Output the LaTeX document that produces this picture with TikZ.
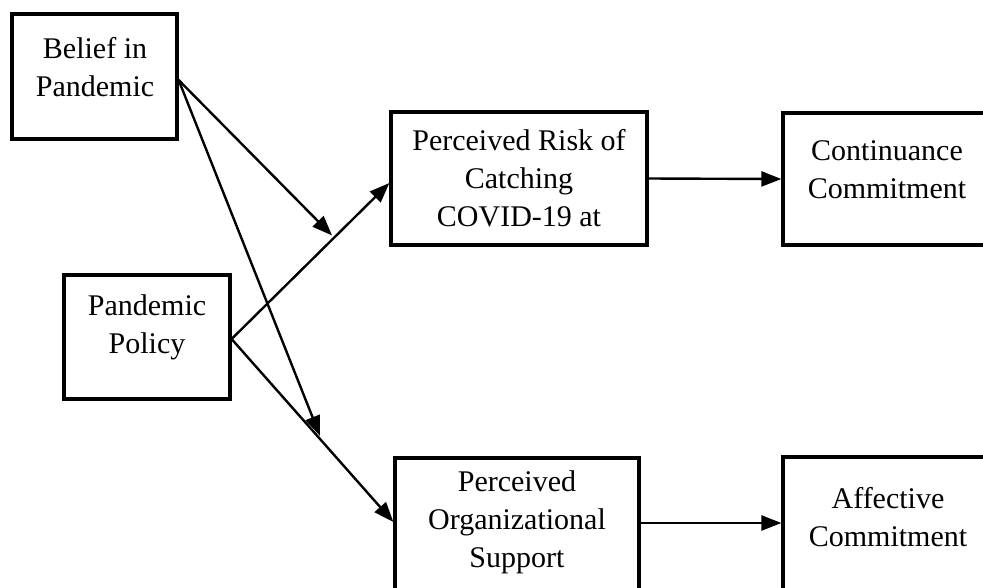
\documentclass[tikz,border=0pt]{standalone}
\usepackage{fontspec}
\setmainfont{Liberation Serif}
\usetikzlibrary{arrows.meta,calc}
\begin{document}
\begin{tikzpicture}[x=1pt,y=-1pt,
  box/.style={draw,line width=3.2pt,rectangle,inner sep=0pt},
  lbl/.style={align=center,inner sep=0pt,font=\fontsize{30}{38}\selectfont},
  conn/.style={line width=2.4pt,-{Triangle[length=20pt,width=15pt]}},
  plain/.style={line width=2.4pt}]
\useasboundingbox (0,0) rectangle (983,587);
\clip (0,0) rectangle (983,587);
% boxes
\node[box,minimum width=165pt,minimum height=125pt] (belief) at (94.5,76.5) {};
\node[box,minimum width=166pt,minimum height=124pt] (policy) at (147,337) {};
\node[box,minimum width=256pt,minimum height=133pt] (risk) at (519,178.5) {};
\node[box,minimum width=230pt,minimum height=132pt] (cont) at (898,179) {};
\node[box,minimum width=244pt,minimum height=144pt] (pos) at (517,530) {};
\node[box,minimum width=230pt,minimum height=144pt] (aff) at (898,529) {};
% labels
\node[lbl] (beliefT) at (95,67.5) {Belief in\\Pandemic};
\node[lbl] (policyT) at (147,327.5) {Pandemic\\Policy};
\node[lbl] (riskT) at (519,178) {Perceived Risk of\\Catching\\COVID-19 at};
\node[lbl] (contT) at (887,169.5) {Continuance\\Commitment};
\node[lbl] (posT) at (517,522) {Perceived\\Organizational\\Support};
\node[lbl] (affT) at (888,517.5) {Affective\\Commitment};
% connectors
\coordinate (bstart) at ($(belief.east)+(0,3.5)$);
\coordinate (pstart) at ($(policy.east)+(0,2)$);
\coordinate (rin) at ($(risk.west)+(0,4.5)$);
\coordinate (posin) at ($(pos.west)+(0,-8)$);
\draw[conn] (pstart) -- (rin) coordinate[pos=0.65] (m1);
\draw[conn] (pstart) -- (posin) coordinate[pos=0.56] (m2);
\draw[conn,shorten >=3pt] (bstart) -- (m1);
\draw[conn,shorten >=6pt] (bstart) -- (m2);
\draw[conn] ($(risk.east)+(0,0)$) -- ($(cont.west)+(0,0)$);
\draw[conn] ($(pos.east)+(0,-7)$) -- ($(aff.west)+(0,-6)$);
\end{tikzpicture}
\end{document}
